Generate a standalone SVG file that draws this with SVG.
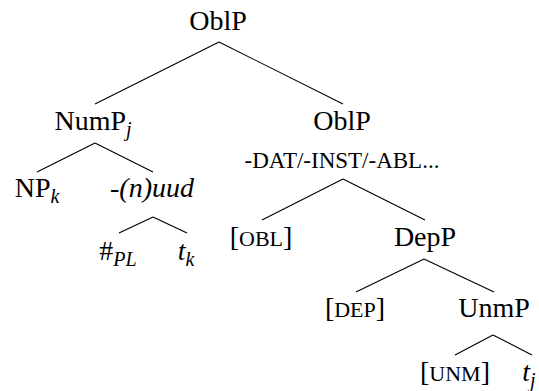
<svg xmlns="http://www.w3.org/2000/svg" width="539" height="391" viewBox="0 0 539 391">
<style>
text { font-size: 28px; fill: #000; text-anchor: middle; }
.it { font-style: italic; }
.sub { font-style: italic; font-size: 20px; }
.sc { font-size: 22px; }
.gl { font-size: 23px; }
#edges line { stroke: #000; stroke-width: 1.1; }
</style>
<rect width="539" height="391" fill="#fff"/>
<g id="edges">
<line x1="219" y1="42" x2="95" y2="104"/>
<line x1="219" y1="42" x2="343" y2="104"/>
<line x1="95" y1="143" x2="37" y2="172"/>
<line x1="95" y1="143" x2="153" y2="172"/>
<line x1="153" y1="217" x2="119" y2="233"/>
<line x1="153" y1="217" x2="187" y2="233"/>
<line x1="343" y1="179" x2="262" y2="220"/>
<line x1="343" y1="179" x2="425" y2="220"/>
<line x1="424" y1="259" x2="356" y2="292"/>
<line x1="424" y1="259" x2="494" y2="292"/>
<line x1="493" y1="335" x2="455" y2="355"/>
<line x1="493" y1="335" x2="532" y2="355"/>
</g>
<g font-family="'Liberation Serif', 'DejaVu Serif', serif">
<g id="n-root"><text x="218" y="30">OblP</text></g>
<g id="n-nump"><text x="93" y="130">NumP<tspan class="sub" dy="6">j</tspan></text></g>
<g id="n-oblp"><text x="342" y="130">OblP</text><text class="gl" x="342" y="168">-DAT/-INST/-ABL...</text></g>
<g id="n-np"><text x="37" y="197">NP<tspan class="sub" dy="6">k</tspan></text></g>
<g id="n-uud"><text class="it" x="152" y="197">-(n)uud</text></g>
<g id="n-pl"><text x="118" y="260">#<tspan class="sub" dy="6">PL</tspan></text></g>
<g id="n-tk"><text x="186" y="260"><tspan class="it">t</tspan><tspan class="sub" dy="6">k</tspan></text></g>
<g id="n-obl"><text x="261" y="246">[<tspan class="sc">OBL</tspan>]</text></g>
<g id="n-depp"><text x="425" y="246">DepP</text></g>
<g id="n-dep"><text x="355" y="317">[<tspan class="sc">DEP</tspan>]</text></g>
<g id="n-unmp"><text x="494" y="317">UnmP</text></g>
<g id="n-unm"><text x="455" y="381">[<tspan class="sc">UNM</tspan>]</text></g>
<g id="n-tj"><text x="529" y="381"><tspan class="it">t</tspan><tspan class="sub" dy="6">j</tspan></text></g>
</g>
</svg>
